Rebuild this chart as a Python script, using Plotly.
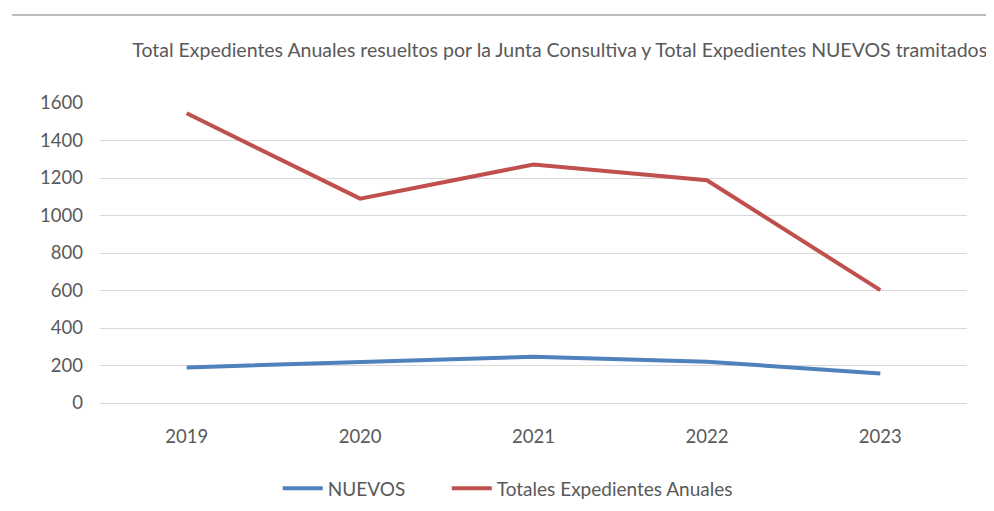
import plotly.graph_objects as go

years = ["2019", "2020", "2021", "2022", "2023"]
nuevos = [190, 220, 247, 220, 158]
totales = [1545, 1090, 1272, 1188, 602]
y_ticks = [0, 200, 400, 600, 800, 1000, 1200, 1400, 1600]

FONT = "Lato, Carlito, Calibri, sans-serif"
GREY = "#595959"

fig = go.Figure()
fig.add_trace(go.Scatter(x=years, y=nuevos, mode="lines", name="NUEVOS",
                         line=dict(color="#4F81BD", width=4), legend="legend"))
fig.add_trace(go.Scatter(x=years, y=totales, mode="lines", name="Totales Expedientes Anuales",
                         line=dict(color="#C0504D", width=4), legend="legend2"))

leg_common = dict(orientation="h", y=-0.285, yanchor="middle", xanchor="left",
                  font=dict(family=FONT, size=19, color=GREY), itemwidth=40,
                  bgcolor="rgba(0,0,0,0)")

fig.update_layout(
    width=994, height=511,
    margin=dict(l=92, r=35, t=95, b=110),
    paper_bgcolor="white", plot_bgcolor="white",
    font=dict(family=FONT, color=GREY, size=18),
    title=dict(text="Total Expedientes Anuales resueltos por la Junta Consultiva y Total Expedientes NUEVOS tramitados",
               x=0.555, xanchor="center", y=0.918, yanchor="middle",
               font=dict(family=FONT, size=19.5, color=GREY)),
    showlegend=True,
    legend=dict(x=0.205, **leg_common),
    legend2=dict(x=0.40, **leg_common),
    shapes=[dict(type="line", xref="paper", yref="paper", x0=-0.1015, x1=1.04, y0=1.293, y1=1.293,
                 line=dict(color="#a6a6a6", width=1.5))],
)
fig.update_xaxes(type="category", range=[-0.5, 4.5], showgrid=False, showline=False,
                 ticks="", tickfont=dict(size=18.5, color=GREY), ticklabelstandoff=20)
fig.update_yaxes(range=[0, 1600], tickvals=y_ticks, showgrid=True, gridcolor="#d9d9d9",
                 gridwidth=1, zeroline=True, zerolinecolor="#d9d9d9", zerolinewidth=1,
                 showline=False, ticks="", tickfont=dict(size=18.5, color=GREY),
                 ticklabelstandoff=16)

fig.write_html("out.html")
